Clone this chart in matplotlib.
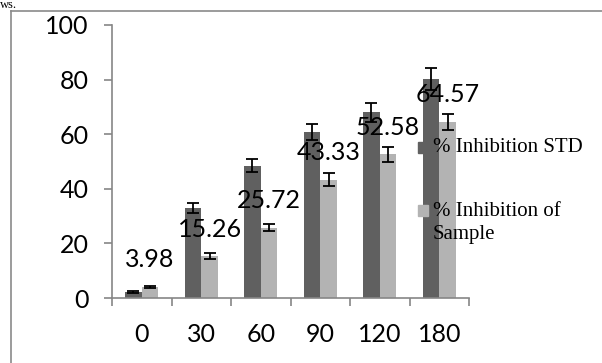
import matplotlib
matplotlib.use("Agg")
import matplotlib.pyplot as plt
import numpy as np
from matplotlib.lines import Line2D
from matplotlib.patches import Rectangle

categories = ["0", "30", "60", "90", "120", "180"]
std_values = [2.3, 32.9, 48.5, 60.8, 68.1, 80.1]
std_errors = [0.4, 1.8, 2.3, 2.9, 3.5, 4.0]
sample_values = [3.98, 15.26, 25.72, 43.33, 52.58, 64.57]
sample_errors = [0.4, 1.1, 1.3, 2.4, 2.7, 3.0]
sample_labels = ["3.98", "15.26", "25.72", "43.33", "52.58", "64.57"]
legend_labels = ["% Inhibition STD", "% Inhibition of\nSample"]
yticks = [0, 20, 40, 60, 80, 100]

W, H = 602, 363
fig = plt.figure(figsize=(W / 100, H / 100), dpi=100)
ax = fig.add_axes([112 / W, (H - 298) / H, 357 / W, 273 / H])

x = np.arange(len(categories))
bw = 0.28
c_std = "#606060"
c_smp = "#b3b3b3"
ekw = dict(elinewidth=1.3, capthick=1.3, ecolor="black")
ax.bar(x - bw / 2, std_values, bw, color=c_std, yerr=std_errors, capsize=4.5, error_kw=ekw, zorder=2)
ax.bar(x + bw / 2, sample_values, bw, color=c_smp, yerr=sample_errors, capsize=4.5, error_kw=ekw, zorder=2)

for xi, v, lab in zip(x, sample_values, sample_labels):
    ax.text(xi + bw / 2, v + 10, lab, ha="center", va="center", fontsize=18,
            family="Lato", color="black", zorder=3)

ax.set_xlim(-0.5, len(categories) - 0.5)
ax.set_ylim(0, 100)
ax.set_yticks(yticks)
ax.set_yticklabels([str(t) for t in yticks], family="Lato", fontsize=18)
ax.set_xticks(x)
ax.set_xticklabels(categories, family="Lato", fontsize=18)
ax.set_xticks(np.arange(len(categories) + 1) - 0.5, minor=True)
ax.tick_params(axis="x", which="major", length=0, pad=18)
ax.tick_params(axis="x", which="minor", length=5.8, color="#868686", width=1.2, direction="out")
ax.tick_params(axis="y", length=5.8, color="#868686", width=1.2, direction="out", pad=11)

for s in ["top", "right"]:
    ax.spines[s].set_visible(False)
for s in ["left", "bottom"]:
    ax.spines[s].set_color("#868686")
    ax.spines[s].set_linewidth(1.2)

# legend drawn manually
ax.add_patch(Rectangle((418 / W, 1 - 153 / H), 10 / W, 11 / H, transform=fig.transFigure,
                       color=c_std, clip_on=False, zorder=4))
fig.text(433 / W, 1 - 148 / H, legend_labels[0], family="Liberation Serif", fontsize=15,
         va="center", ha="left")
ax.add_patch(Rectangle((418 / W, 1 - 216 / H), 10 / W, 11 / H, transform=fig.transFigure,
                       color=c_smp, clip_on=False, zorder=4))
fig.text(433 / W, 1 - 202 / H, legend_labels[1], family="Liberation Serif", fontsize=15,
         va="top", ha="left", linespacing=1.3)

# outer chart frame
fig.add_artist(Line2D([10.5 / W, 1], [1 - 10.5 / H, 1 - 10.5 / H], color="#8a8a8a", lw=1.2))
fig.add_artist(Line2D([10.5 / W, 10.5 / W], [0, 1 - 10.5 / H], color="#8a8a8a", lw=1.2))
fig.text(0.0, 1 - 8.5 / H, "ws.", family="Liberation Serif", fontsize=9, va="baseline", ha="left")

fig.savefig("out.png", dpi=100)
